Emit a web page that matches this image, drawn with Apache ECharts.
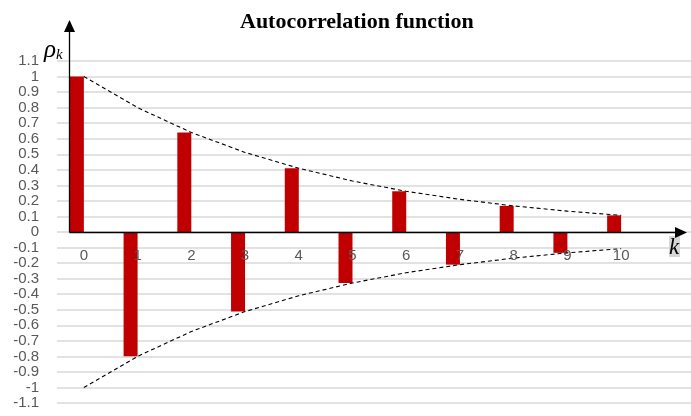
<!DOCTYPE html>
<html>
<head>
<meta charset="utf-8">
<script src="https://cdn.jsdelivr.net/npm/echarts@6/dist/echarts.min.js"></script>
<style>
  html, body { margin: 0; padding: 0; background: #fff; }
  #chart { width: 691px; height: 416px; }
</style>
</head>
<body>
<div id="chart"></div>
<script>
// Lags k
const lags = ['0', '1', '2', '3', '4', '5', '6', '7', '8', '9', '10'];
// Autocorrelation values rho_k
const acf = [1, -0.8, 0.64, -0.512, 0.41, -0.328, 0.262, -0.21, 0.168, -0.134, 0.107];
// Decay envelope (upper and lower)
const upperEnvelope = [1, 0.8, 0.64, 0.512, 0.41, 0.328, 0.262, 0.21, 0.168, 0.134, 0.107];
const lowerEnvelope = [-1, -0.8, -0.64, -0.512, -0.41, -0.328, -0.262, -0.21, -0.168, -0.134, -0.107];
// Empty companion column so each bar sits left of its lag tick
const spacer = ['-', '-', '-', '-', '-', '-', '-', '-', '-', '-', '-'];

const chart = echarts.init(document.getElementById('chart'), null, { renderer: 'canvas' });

const labelFont = { fontFamily: 'Liberation Sans', fontSize: 15, color: '#595959' };
const yRange = { min: -1.1, max: 1.1, interval: 0.1 };
const gridTop = 61;
const gridBottom = 13;

chart.setOption({
  animation: false,
  backgroundColor: '#ffffff',
  title: {
    text: 'Autocorrelation function',
    left: 235,
    top: 6,
    textStyle: { fontFamily: 'Liberation Serif', fontWeight: 'bold', fontSize: 22, color: '#000' }
  },
  grid: [
    { left: 57, right: 0, top: gridTop, bottom: gridBottom, outerBoundsMode: 'none', containLabel: false },
    { left: 57, width: 591, top: gridTop, bottom: gridBottom, outerBoundsMode: 'none', containLabel: false }
  ],
  xAxis: [
    { gridIndex: 0, type: 'value', show: false, min: 0, max: 1 },
    {
      gridIndex: 1,
      type: 'category',
      data: lags,
      boundaryGap: true,
      position: 'bottom',
      axisLine: { show: false, onZero: false },
      axisTick: { show: false },
      axisLabel: Object.assign({ margin: 16 }, labelFont),
      splitLine: { show: false },
      zlevel: 1
    }
  ],
  yAxis: [
    Object.assign({
      gridIndex: 0,
      type: 'value',
      axisLine: { show: false },
      axisTick: { show: false },
      axisLabel: Object.assign({ margin: 18, showMinLabel: true, showMaxLabel: true }, labelFont),
      splitLine: { show: true, lineStyle: { color: '#d9d9d9', width: 1.5 } }
    }, yRange),
    Object.assign({
      gridIndex: 1,
      type: 'value',
      show: false
    }, yRange)
  ],
  series: [
    {
      name: 'rho',
      type: 'bar',
      xAxisIndex: 1,
      yAxisIndex: 1,
      data: acf,
      barWidth: 14,
      barGap: 0,
      itemStyle: { color: '#c00000' },
      z: 3
    },
    {
      name: 'gap',
      type: 'bar',
      xAxisIndex: 1,
      yAxisIndex: 1,
      data: spacer,
      barWidth: 14,
      barGap: 0
    },
    {
      name: 'upper',
      type: 'line',
      xAxisIndex: 1,
      yAxisIndex: 1,
      data: upperEnvelope,
      symbol: 'none',
      lineStyle: { color: '#000', width: 1.1, type: [4, 3] },
      z: 4
    },
    {
      name: 'lower',
      type: 'line',
      xAxisIndex: 1,
      yAxisIndex: 1,
      data: lowerEnvelope,
      symbol: 'none',
      lineStyle: { color: '#000', width: 1.1, type: [4, 3] },
      z: 4
    }
  ]
});

// Arrowed axes and axis titles, positioned from the data scales
const origin = chart.convertToPixel({ xAxisIndex: 1, yAxisIndex: 1 }, [0, 0]);
const axisX = Math.round(origin[0] - 15) + 0.5;
const zeroY = Math.round(origin[1]) + 0.5;
const plotBottom = chart.getHeight() - gridBottom;
const topY = 20;
const rightX = 687;

chart.setOption({
  // lag labels hang just under the zero line
  xAxis: [{}, { offset: Math.round(origin[1]) - plotBottom }],
  graphic: [
    { type: 'line', z: 10, shape: { x1: axisX, y1: zeroY, x2: axisX, y2: topY + 10 },
      style: { stroke: '#000', lineWidth: 1.3 } },
    { type: 'polygon', z: 10,
      shape: { points: [[axisX, topY], [axisX - 5.5, topY + 12], [axisX + 5.5, topY + 12]] },
      style: { fill: '#000' } },
    { type: 'line', z: 10, shape: { x1: axisX, y1: zeroY, x2: rightX - 10, y2: zeroY },
      style: { stroke: '#000', lineWidth: 1.3 } },
    { type: 'polygon', z: 10,
      shape: { points: [[rightX, zeroY], [rightX - 12, zeroY - 5.5], [rightX - 12, zeroY + 5.5]] },
      style: { fill: '#000' } },
    { type: 'rect', z: 9, shape: { x: 669, y: 236, width: 11, height: 21 },
      style: { fill: '#d6d6d6' } },
    { type: 'text', z: 11, x: 669, y: 236,
      style: { text: 'k', fontFamily: 'Liberation Serif', fontStyle: 'italic', fontSize: 23, fill: '#000' } },
    { type: 'text', z: 11, x: 44, y: 38,
      style: {
        text: '{r|ρ}{s|k}',
        rich: {
          r: { fontFamily: 'Liberation Serif', fontStyle: 'italic', fontSize: 25, fill: '#000', verticalAlign: 'top' },
          s: { fontFamily: 'Liberation Serif', fontStyle: 'italic', fontSize: 15, fill: '#000', padding: [10, 0, 0, 0] }
        }
      } }
  ]
});
</script>
</body>
</html>
